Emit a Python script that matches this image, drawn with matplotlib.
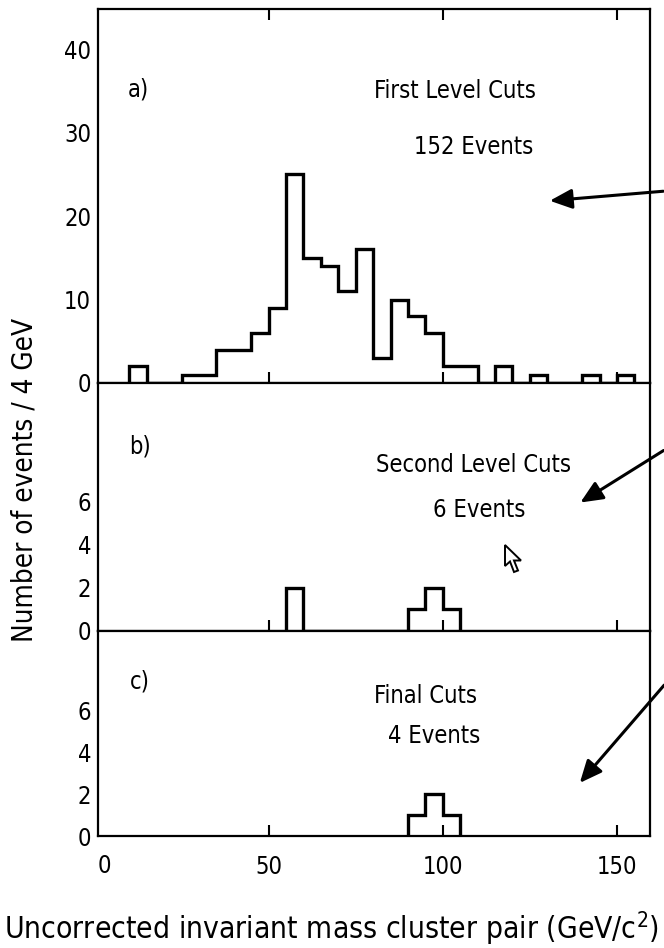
import matplotlib
matplotlib.use("Agg")
import matplotlib.pyplot as plt
from matplotlib.patches import Polygon, FancyArrowPatch

plt.rcParams['font.family'] = ['DejaVu Sans']
plt.rcParams['font.stretch'] = 'condensed'

# ---------------- data ----------------
# panel a: first level cuts (bin edges in GeV, counts)
a_edges = [10, 15, 20, 25, 30, 35, 40, 45, 50, 55, 60, 65, 70, 75, 80, 85, 90,
           95, 100, 105, 110, 115, 120, 125, 130, 135, 140, 145, 150, 155]
a_counts = [2, 0, 0, 1, 1, 4, 4, 6, 9, 25, 15, 14, 11, 16, 3, 10, 8,
            6, 2, 2, 0, 2, 0, 1, 0, 0, 1, 0, 1]
# panel b: second level cuts
b_edges = [55, 60, 65, 70, 75, 80, 85, 90, 95, 100, 105]
b_counts = [2, 0, 0, 0, 0, 0, 0, 1, 2, 1]
# panel c: final cuts
c_edges = [90, 95, 100, 105]
c_counts = [1, 2, 1]

x_ticks = [50, 100, 150]
x_ticklabels = ['50', '100', '150']
a_yticks = [0, 10, 20, 30, 40]
bc_yticks = [0, 2, 4, 6]

panel_letters = ['a)', 'b)', 'c)']
panel_titles = ['First Level Cuts', 'Second Level Cuts', 'Final Cuts']
panel_events = ['152 Events', '6 Events', '4 Events']

W, H = 664, 948
fig = plt.figure(figsize=(W / 100, H / 100), dpi=100)
fig.patch.set_facecolor('white')

L, R = 98, 650


def add_ax(top, bottom):
    return fig.add_axes([L / W, 1 - bottom / H, (R - L) / W, (bottom - top) / H])


ax_a = add_ax(9, 383)
ax_b = add_ax(383, 631)
ax_c = add_ax(631, 836)

FS = 17
lw_h = 2.4

for ax, edges, counts, ylim, yt in [
        (ax_a, a_edges, a_counts, 44.8, a_yticks),
        (ax_b, b_edges, b_counts, 11.5, bc_yticks),
        (ax_c, c_edges, c_counts, 9.8, bc_yticks)]:
    ax.stairs(counts, edges, baseline=0, color='black', lw=lw_h, clip_on=False)
    ax.set_xlim(1, 159.5)
    ax.set_ylim(0, ylim)
    ax.set_yticks(yt)
    ax.set_yticklabels([str(v) for v in yt], fontsize=FS)
    ax.set_xticks(x_ticks)
    for s in ax.spines.values():
        s.set_linewidth(1.6)
    ax.tick_params(axis='y', length=0, pad=5)
    ax.tick_params(axis='x', direction='in', length=8, width=1.5,
                   labelbottom=False)

ax_a.tick_params(axis='x', top=True)
ax_c.tick_params(axis='x', labelbottom=True, labelsize=FS, pad=14)
ax_c.set_xticklabels(x_ticklabels)
ax_c.text(0.012, -0.145, '0', transform=ax_c.transAxes, fontsize=FS,
          ha='center', va='center')
# small tick at 2 on panel c
ax_c.set_yticks([2], minor=True)
ax_c.tick_params(axis='y', which='minor', direction='in', length=8, width=1.5)

# panel texts (axes fractions)
txt = [
    (ax_a, (0.0725, 0.786), (0.647, 0.781), (0.681, 0.631)),
    (ax_b, (0.076, 0.742), (0.680, 0.669), (0.690, 0.488)),
    (ax_c, (0.075, 0.756), (0.594, 0.683), (0.609, 0.488)),
]
for (ax, p_let, p_tit, p_ev), let, tit, ev in zip(txt, panel_letters,
                                                 panel_titles, panel_events):
    ax.text(*p_let, let, transform=ax.transAxes, fontsize=FS, ha='center', va='center')
    ax.text(*p_tit, tit, transform=ax.transAxes, fontsize=FS, ha='center', va='center')
    ax.text(*p_ev, ev, transform=ax.transAxes, fontsize=FS, ha='center', va='center')

# axis labels
fig.text(332 / W, 1 - 929 / H,
         'Uncorrected invariant mass cluster pair (GeV/c$^{\\mathregular{2}}$)',
         fontsize=21.5, ha='center', va='center')
fig.text(25 / W, 1 - 480 / H, 'Number of events / 4 GeV', fontsize=20,
         rotation=90, ha='center', va='center')

# hand-drawn arrows (figure pixels)
arrows = [((666, 191), (547, 201)), ((666, 449), (578, 504)), ((666, 683), (578, 785))]
for (x0, y0), (x1, y1) in arrows:
    fig.patches.append(FancyArrowPatch(
        (x0 / W, 1 - y0 / H), (x1 / W, 1 - y1 / H), transform=fig.transFigure,
        arrowstyle='-|>,head_length=0.9,head_width=0.4', mutation_scale=15,
        lw=2.2, color='black'))

# mouse cursor
tip = (505, 545)
shape = [(0, 0), (0, 21), (5, 16.5), (9, 27), (13, 25.5), (9, 15.5), (16, 15.5)]
pts = [((tip[0] + dx) / W, 1 - (tip[1] + dy) / H) for dx, dy in shape]
fig.patches.append(Polygon(pts, closed=True, transform=fig.transFigure,
                           facecolor='white', edgecolor='black', lw=1.4))

fig.savefig('out.png', dpi=100)
